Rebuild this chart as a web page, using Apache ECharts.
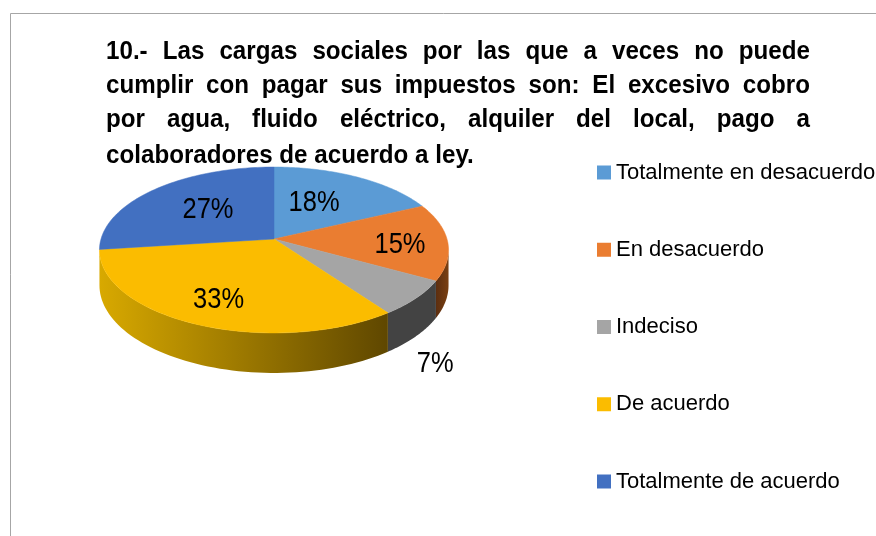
<!DOCTYPE html>
<html>
<head>
<meta charset="utf-8">
<style>
  html, body { margin: 0; padding: 0; background: #fff; }
  #main { width: 876px; height: 536px; }
</style>
</head>
<body>
<div id="main"></div>
<script src="https://cdn.jsdelivr.net/npm/echarts@6/dist/echarts.min.js"></script>
<script>
var categories = ["Totalmente en desacuerdo", "En desacuerdo", "Indeciso", "De acuerdo", "Totalmente de acuerdo"];
var sliceValues = [18, 15, 7, 33, 27];
var titleLines = [
  "10.- Las cargas sociales por las que a veces no puede",
  "cumplir con pagar sus impuestos son: El excesivo cobro",
  "por agua, fluido eléctrico, alquiler del local, pago a",
  "colaboradores de acuerdo a ley."
];

var faceColors = ["#5b9bd5", "#ea7d31", "#a5a5a5", "#fbbc00", "#4270c1"];
// [left colour, right colour] of the outer wall of each slice
var wallColors = [
  ["#35608a", "#35608a"],
  ["#5c2e10", "#7a4012"],
  ["#434343", "#434343"],
  ["#d8a900", "#5f4700"],
  ["#2a4a80", "#2a4a80"]
];
// label nudge from the point at 0.6 radius on the middle of the slice
var labelShift = [[-12, 2], [22, 4], [79, 91], [-11, 12], [8, 1]];

// perspective of the pie, apex of the slices is not the middle of the ellipse
var pie = { cx: 274, cy: 239, a: 173, b: 81.5, k: 0.1325, depth: 34.7 };
var total = sliceValues.reduce(function (s, v) { return s + v; }, 0);

function project(angle, r, drop) {
  var X = r * Math.sin(angle);
  var Y = -r * Math.cos(angle);
  var den = 1 - pie.k * Y;
  return [pie.cx + pie.a * X / den, pie.cy + (pie.b * Y + (drop || 0)) / den];
}

function renderSlice(index) {
  return function (params, api) {
    var before = 0;
    for (var i = 0; i < index; i++) before += sliceValues[i];
    var start = before / total * Math.PI * 2;
    var end = start + api.value(0) / total * Math.PI * 2;
    var children = [];
    var steps = 64;
    var top = [[pie.cx, pie.cy]];
    for (var s = 0; s <= steps; s++) {
      top.push(project(start + (end - start) * s / steps, 1));
    }
    children.push({
      type: "polygon",
      z2: 10,
      shape: { points: top },
      style: { fill: faceColors[index], stroke: faceColors[index], lineWidth: 0.5 }
    });

    // outer wall, only the part between the two tangent points can be seen
    var wallFrom = Math.max(start, Math.acos(-pie.k));
    var wallTo = Math.min(end, Math.PI * 2 - Math.acos(-pie.k));
    if (wallTo > wallFrom) {
      var upper = [], lower = [];
      for (var w = 0; w <= steps; w++) {
        var ang = wallFrom + (wallTo - wallFrom) * w / steps;
        upper.push(project(ang, 1));
        lower.unshift(project(ang, 1, pie.depth));
      }
      children.push({
        type: "polygon",
        z2: 1,
        shape: { points: upper.concat(lower) },
        style: {
          fill: {
            type: "linear", x: 0, y: 0, x2: 1, y2: 0,
            colorStops: [
              { offset: 0, color: wallColors[index][0] },
              { offset: 1, color: wallColors[index][1] }
            ]
          }
        }
      });
    }

    var mid = project((start + end) / 2, 0.6);
    children.push({
      type: "text",
      z2: 20,
      x: mid[0] + labelShift[index][0],
      y: mid[1] + labelShift[index][1],
      scaleX: 0.85,
      style: {
        text: Math.round(api.value(0) / total * 100) + "%",
        fill: "#000",
        font: "30px 'Liberation Sans', sans-serif",
        align: "center",
        verticalAlign: "middle"
      }
    });
    return { type: "group", children: children };
  };
}

// title is justified in the original, so every word goes on its own
var titleFont = "bold 26px 'Liberation Sans', sans-serif";
var titleSqueeze = 0.93;
var titleLeft = 106, titleRight = 810, titleBaseY = [52, 86, 120, 156];
var ctx = document.createElement("canvas").getContext("2d");
ctx.font = titleFont;

function wordWidth(w) {
  return ctx.measureText(w).width * titleSqueeze;
}

function titleWords() {
  var out = [];
  titleLines.forEach(function (line, li) {
    var words = line.split(" ");
    var used = words.reduce(function (s, w) { return s + wordWidth(w); }, 0);
    var last = li === titleLines.length - 1;
    var gap = last ? wordWidth(" ") : (titleRight - titleLeft - used) / (words.length - 1);
    var x = titleLeft;
    words.forEach(function (w) {
      out.push({
        type: "text",
        z: 5,
        x: x,
        y: titleBaseY[li],
        scaleX: titleSqueeze,
        style: { text: w, font: titleFont, fill: "#000", align: "left", verticalAlign: "middle" }
      });
      x += wordWidth(w) + gap;
    });
  });
  return out;
}

var myChart = echarts.init(document.getElementById("main"));
var option = {
  backgroundColor: "#fff",
  animation: false,
  legend: {
    orient: "vertical",
    left: 597,
    top: 160,
    padding: 0,
    itemWidth: 14,
    itemHeight: 14,
    itemGap: 52.25,
    icon: "rect",
    data: categories,
    textStyle: {
      color: "#000",
      fontFamily: "'Liberation Sans', sans-serif",
      fontSize: 22,
      lineHeight: 25
    }
  },
  graphic: [
    { type: "line", shape: { x1: 10.5, y1: 13.5, x2: 876, y2: 13.5 }, style: { stroke: "#a6a6a6", lineWidth: 1 } },
    { type: "line", shape: { x1: 10.5, y1: 13.5, x2: 10.5, y2: 536 }, style: { stroke: "#a6a6a6", lineWidth: 1 } }
  ].concat(titleWords()),
  series: categories.map(function (name, i) {
    return {
      name: name,
      type: "custom",
      coordinateSystem: "none",
      itemStyle: { color: faceColors[i] },
      renderItem: renderSlice(i),
      data: [[sliceValues[i]]]
    };
  })
};
myChart.setOption(option);
</script>
</body>
</html>
